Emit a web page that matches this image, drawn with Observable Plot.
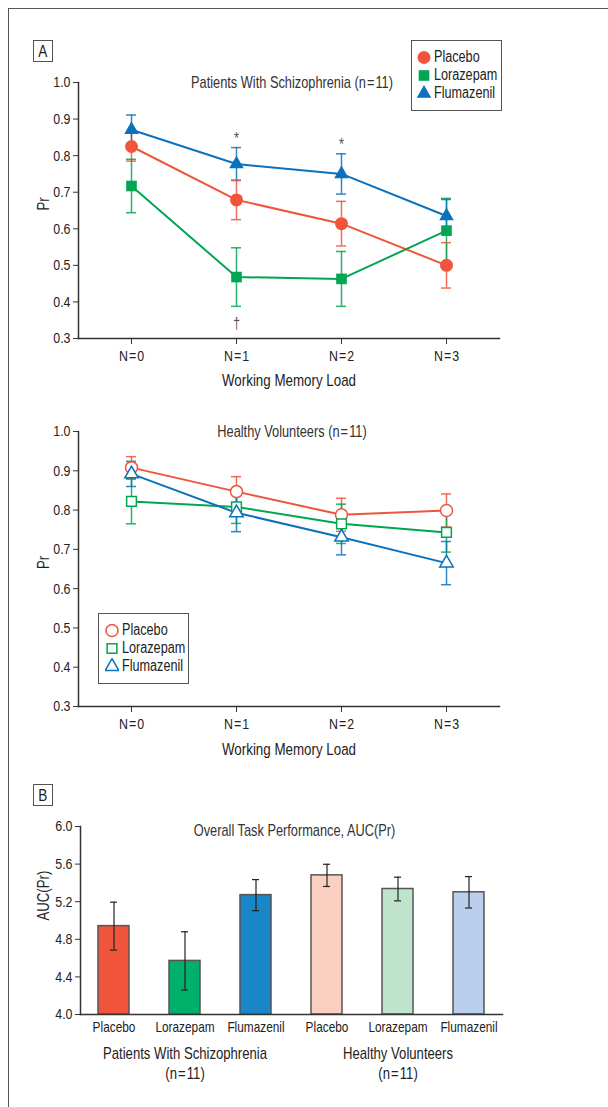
<!DOCTYPE html>
<html><head><meta charset="utf-8">
<script src="https://cdn.jsdelivr.net/npm/d3@7"></script>
<script src="https://cdn.jsdelivr.net/npm/@observablehq/plot@0.6"></script>
<style>
body{margin:0;background:#fff;overflow:hidden;}
#wrap{position:relative;width:608px;height:1107px;overflow:hidden;font-family:"Liberation Sans",Arial,sans-serif;color:#222;}
#frame{position:absolute;left:8px;top:8px;width:700px;height:1200px;border-left:1.5px solid #555;border-top:1.5px solid #555;}
.panel{position:absolute;left:0;}
.tag{position:absolute;left:33px;width:18px;height:20px;border:1px solid #555;font-size:17px;text-align:center;line-height:21px;color:#222;background:#fff;}
.tag span{display:inline-block;transform:scaleX(0.8);}
.legend{position:absolute;border:1.5px solid #555;background:#fff;box-sizing:border-box;padding-top:7px;font-size:15.8px;white-space:nowrap;}
.legend .row{display:flex;align-items:center;height:18px;}
.legend svg{display:block;margin-right:3px;flex-shrink:0;}
.legend span{display:inline-block;transform:scaleX(0.8);transform-origin:left center;}
</style></head>
<body><div id="wrap"><div id="frame"></div></div>
<script>
// ---------- data ----------
const loads = ["N\u200a=\u200a0","N\u200a=\u200a1","N\u200a=\u200a2","N\u200a=\u200a3"];
const drugs = ["Placebo","Lorazepam","Flumazenil"];

// Panel A: patients with schizophrenia (mean Pr, SE)
const szPlacebo     = [0.825, 0.679, 0.614, 0.500];
const szPlaceboErr  = [0.040, 0.054, 0.061, 0.062];
const szLorazepam   = [0.717, 0.468, 0.463, 0.595];
const szLorazepamErr= [0.073, 0.080, 0.075, 0.088];
const szFlumazenil  = [0.871, 0.777, 0.750, 0.635];
const szFlumazenilErr=[0.040, 0.045, 0.055, 0.045];
const szMarks = [
  {load:loads[1], value:0.845, text:"*"},
  {load:loads[2], value:0.830, text:"*"},
  {load:loads[1], value:0.340, text:"\u2020"}
];

// Panel A: healthy volunteers
const hvPlacebo      = [0.908, 0.847, 0.788, 0.799];
const hvPlaceboErr   = [0.028, 0.038, 0.042, 0.042];
const hvLorazepam    = [0.822, 0.808, 0.765, 0.743];
const hvLorazepamErr = [0.057, 0.042, 0.050, 0.050];
const hvFlumazenil   = [0.892, 0.793, 0.731, 0.665];
const hvFlumazenilErr= [0.032, 0.048, 0.045, 0.055];

const prTicks = [0.3,0.4,0.5,0.6,0.7,0.8,0.9,1.0];

// Panel B: AUC(Pr)
const barGroups = ["Patients With Schizophrenia\n(n\u200a=\u200a11)", "Healthy Volunteers\n(n\u200a=\u200a11)"];
const barKeys   = ["SZ Placebo","SZ Lorazepam","SZ Flumazenil","HV Placebo","HV Lorazepam","HV Flumazenil"];
const barDrug   = ["Placebo","Lorazepam","Flumazenil","Placebo","Lorazepam","Flumazenil"];
const barValues = [4.94, 4.57, 5.27, 5.48, 5.335, 5.30];
const barErr    = [0.255, 0.31, 0.165, 0.118, 0.126, 0.167];
const aucTicks  = [4.0,4.4,4.8,5.2,5.6,6.0];

// ---------- styles ----------
const lineColors = ["#f0553c","#00a651","#0a72bd"];
const barColors  = ["#f0553c","#00b06b","#1986c8","#fbd0c0","#bfe3cb","#b9cfec"];
const FONT = '"Liberation Sans",Arial,sans-serif';
const COND = 0.8; // horizontal condensing of glyphs
const symbolNames = ["circle","square","triangle"];
const symR = {Placebo:6.5, Lorazepam:6, Flumazenil:5.4};
const symRHollow = {Placebo:6, Lorazepam:5.5, Flumazenil:5};

function condense(svg){
  const num = /^-?[\d.]+$/;
  svg.querySelectorAll("text").forEach(t=>{
    let x=0, y=0;
    const ax=t.getAttribute("x"), ay=t.getAttribute("y");
    if (ax!==null && num.test(ax)) { x=+ax; t.removeAttribute("x"); }
    if (ay!==null && num.test(ay)) { y=+ay; t.removeAttribute("y"); }
    const tr=t.getAttribute("transform")||"";
    t.setAttribute("transform", `${tr} translate(${x},${y}) scale(${COND},1)`);
  });
  return svg;
}

function buildRows(series, errs){
  const rows=[];
  drugs.forEach((dr,i)=>loads.forEach((l,j)=>rows.push({drug:dr, load:l, value:series[i][j], lo:series[i][j]-errs[i][j], hi:series[i][j]+errs[i][j]})));
  return rows;
}
const szRows = buildRows([szPlacebo,szLorazepam,szFlumazenil],[szPlaceboErr,szLorazepamErr,szFlumazenilErr]);
const hvRows = buildRows([hvPlacebo,hvLorazepam,hvFlumazenil],[hvPlaceboErr,hvLorazepamErr,hvFlumazenilErr]);

function linePanel({rows, title, filled, height, marginTop, marginBottom, titleGap, extra=[]}){
  const dotMarks = drugs.map(dr=>Plot.dot(rows.filter(d=>d.drug===dr), {
    x:"load", y:"value", symbol:"drug",
    fill: filled ? "drug" : "white",
    stroke: filled ? null : "drug",
    strokeWidth: 1.5,
    r: filled ? symR[dr] : symRHollow[dr]
  }));
  const cap = (key)=>Plot.ruleY(rows, {x1:"load", x2:"load", y:key, stroke:"drug", strokeWidth:1.5, insetLeft:-5, insetRight:-5, strokeOpacity:0.85});
  return condense(Plot.plot({
    width:608, height, marginLeft:78, marginRight:109, marginTop, marginBottom,
    style:{fontFamily:FONT, fontSize:"15px", color:"#222", background:"transparent", overflow:"visible"},
    x:{type:"point", domain:loads, padding:0.5, axis:null},
    y:{domain:[prTicks[0], prTicks[prTicks.length-1]], axis:null},
    color:{domain:drugs, range:lineColors},
    symbol:{domain:drugs, range:symbolNames},
    marks:[
      Plot.frame({anchor:"left", stroke:"#333", strokeWidth:1.5}),
      Plot.frame({anchor:"bottom", stroke:"#333", strokeWidth:1.5}),
      Plot.axisY({ticks:prTicks, tickFormat:d3.format(".1f"), tickSize:5, tickPadding:3, stroke:"#333", fill:"#222", fontSize:15.5, label:null}),
      Plot.axisX({tickSize:6, tickPadding:5, stroke:"#333", fill:"#222", fontSize:15.5, label:null}),
      Plot.text(["Pr"], {frameAnchor:"left", dx:-35, rotate:-90, fontSize:16.5, fill:"#222"}),
      Plot.text(["Working Memory Load"], {frameAnchor:"bottom", lineAnchor:"middle", dy:titleGap, fontSize:16.7, fill:"#222"}),
      Plot.text([title], {frameAnchor:"top", lineAnchor:"middle", dx:3, fontSize:16, fill:"#333"}),
      Plot.ruleX(rows, {x:"load", y1:"lo", y2:"hi", stroke:"drug", strokeWidth:1.5, strokeOpacity:0.85}),
      cap("lo"), cap("hi"),
      Plot.line(rows, {x:"load", y:"value", stroke:"drug", z:"drug", strokeWidth:2}),
      ...dotMarks,
      ...extra
    ]
  }));
}

const wrap = document.getElementById("wrap");
function place(el, top){ el.classList.add("panel"); el.style.top = top+"px"; wrap.appendChild(el); }

place(linePanel({rows:szRows, title:"Patients With Schizophrenia (n\u200a=\u200a11)", filled:true, height:400, marginTop:82, marginBottom:62, titleGap:42,
  extra:[Plot.text(szMarks, {x:"load", y:"value", text:"text", fill:"#555", fontSize:16})]}), 0);
place(linePanel({rows:hvRows, title:"Healthy Volunteers (n\u200a=\u200a11)", filled:false, height:370, marginTop:31, marginBottom:64, titleGap:43}), 400);

// Panel B
const barRows = barKeys.map((k,i)=>({key:k, drug:barDrug[i], value:barValues[i], lo:barValues[i]-barErr[i], hi:barValues[i]+barErr[i], color:barColors[i]}));
const groupRows = [{key:barKeys[1], text:barGroups[0]},{key:barKeys[4], text:barGroups[1]}];
const drugOf = Object.fromEntries(barKeys.map((k,i)=>[k,barDrug[i]]));
const barPlot = condense(Plot.plot({
  width:608, height:337, marginLeft:80, marginRight:106, marginTop:56, marginBottom:93,
  style:{fontFamily:FONT, fontSize:"15px", color:"#222", background:"transparent", overflow:"visible"},
  x:{type:"band", domain:barKeys, paddingInner:0.57, paddingOuter:0.22, axis:null},
  y:{domain:[aucTicks[0], aucTicks[aucTicks.length-1]], axis:null},
  marks:[
    Plot.barY(barRows, {x:"key", y1:()=>aucTicks[0], y2:"value", fill:"color", stroke:"#555", strokeWidth:1.5}),
    Plot.ruleX(barRows, {x:"key", y1:"lo", y2:"hi", stroke:"#222", strokeWidth:1.2}),
    Plot.tickY(barRows, {x:"key", y:"lo", stroke:"#222", strokeWidth:1.2, insetLeft:12, insetRight:12}),
    Plot.tickY(barRows, {x:"key", y:"hi", stroke:"#222", strokeWidth:1.2, insetLeft:12, insetRight:12}),
    Plot.frame({anchor:"left", stroke:"#333", strokeWidth:1.5}),
    Plot.frame({anchor:"bottom", stroke:"#333", strokeWidth:1.5}),
    Plot.axisY({ticks:aucTicks, tickFormat:d3.format(".1f"), tickSize:5, tickPadding:3, stroke:"#333", fill:"#222", fontSize:15.5, label:null}),
    Plot.axisX({tickSize:0, tickPadding:7, tickFormat:k=>drugOf[k], fill:"#222", fontSize:14.8, label:null}),
    Plot.text(groupRows, {x:"key", text:"text", frameAnchor:"bottom", lineAnchor:"top", dy:30, lineHeight:1.22, fontSize:16.4, fill:"#222"}),
    Plot.text(["AUC(Pr)"], {frameAnchor:"left", dx:-37, rotate:-90, fontSize:16.5, fill:"#222"}),
    Plot.text(["Overall Task Performance, AUC(Pr)"], {frameAnchor:"top", lineAnchor:"middle", dx:3, dy:4, fontSize:16, fill:"#333"})
  ]
}));
place(barPlot, 770);

// tags
function tag(txt, top){ const d=document.createElement("div"); d.className="tag"; d.style.top=top+"px"; const s=document.createElement("span"); s.textContent=txt; d.appendChild(s); wrap.appendChild(d); }
tag("A", 40); tag("B", 784);

// legends
const symTypes = [d3.symbolCircle, d3.symbolSquare, d3.symbolTriangle];
function legend(left, top, w, h, filled, padLeft){
  const box = document.createElement("div");
  box.className="legend";
  Object.assign(box.style,{left:left+"px", top:top+"px", width:w+"px", height:h+"px", paddingLeft:padLeft+"px"});
  drugs.forEach((dr,i)=>{
    const row=document.createElement("div"); row.className="row";
    const svg=d3.create("svg").attr("width",14).attr("height",16);
    const rr = filled ? symR[dr] : symRHollow[dr];
    svg.append("path").attr("transform","translate(7,8.5)")
      .attr("d", d3.symbol(symTypes[i], Math.PI*rr*rr)())
      .attr("fill", filled ? lineColors[i] : "white")
      .attr("stroke", filled ? "none" : lineColors[i]).attr("stroke-width",1.5);
    row.appendChild(svg.node());
    const sp=document.createElement("span"); sp.textContent=dr; row.appendChild(sp);
    box.appendChild(row);
  });
  wrap.appendChild(box);
}
legend(411, 40, 91, 71, true, 5);
legend(98, 613, 91, 71, false, 6);
</script>
</body></html>
